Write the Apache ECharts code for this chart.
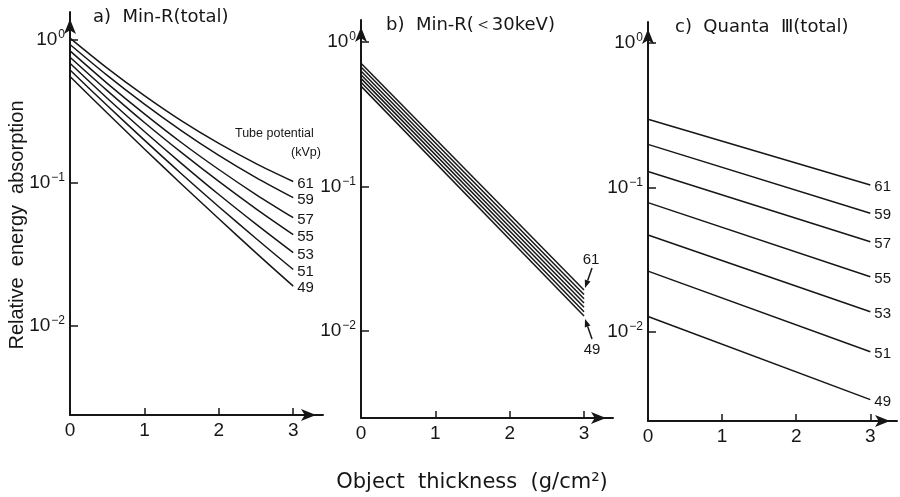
<!DOCTYPE html>
<html>
<head>
<meta charset="utf-8">
<script src="https://cdn.jsdelivr.net/npm/echarts@6/dist/echarts.min.js"></script>
<style>
html, body { margin: 0; padding: 0; background: #fff; }
#main { width: 900px; height: 497px; }
</style>
</head>
<body>
<div id="main"></div>
<script>
// tube potential (kVp) of each curve, top to bottom
var kvp = ['61', '59', '57', '55', '53', '51', '49'];

// a) Min-R (total)
var thickA = [0, 0.5, 1, 1.5, 2, 2.5, 3];
var minRTotal = [
  [1.02, 0.63, 0.405, 0.27, 0.188, 0.136, 0.102],
  [0.92, 0.56, 0.353, 0.23, 0.155, 0.1085, 0.0786],
  [0.83, 0.493, 0.302, 0.19, 0.1236, 0.0827, 0.057],
  [0.75, 0.439, 0.263, 0.162, 0.102, 0.0657, 0.0434],
  [0.68, 0.388, 0.2275, 0.136, 0.0827, 0.0514, 0.0325],
  [0.61, 0.345, 0.198, 0.115, 0.068, 0.0408, 0.0248],
  [0.55, 0.306, 0.172, 0.0976, 0.056, 0.0324, 0.019]
];

// b) Min-R (<30keV)
var thickB = [0, 3];
var minR30 = [
  [0.713, 0.0192],
  [0.671, 0.0179],
  [0.631, 0.0167],
  [0.594, 0.0156],
  [0.560, 0.0146],
  [0.526, 0.0136],
  [0.495, 0.0127]
];

// c) Quanta III (total)
var thickC = [0, 3];
var quanta = [
  [0.297, 0.104],
  [0.199, 0.0663],
  [0.129, 0.0422],
  [0.0786, 0.0241],
  [0.0469, 0.0138],
  [0.0264, 0.0073],
  [0.0128, 0.0034]
];

var yTicks = [1, 0.1, 0.01];
var xTicks = [0, 1, 2, 3];

var ink = '#161616';
var font = "'Liberation Sans', Arial, sans-serif";
var wide = "'DejaVu Sans', sans-serif";

function yLabel(v) {
  var e = Math.round(Math.log(v) / Math.LN10);
  return '{b|10}{s|' + (e === 0 ? '0' : '\u2212' + (-e)) + '}';
}

function xAxisOf(i, max) {
  return {
    gridIndex: i, type: 'value', min: 0, max: max,
    axisLine: { show: true, symbol: ['none', 'arrow'], symbolSize: [9, 15], symbolOffset: [0, -7],
      lineStyle: { color: ink, width: 2 } },
    axisTick: { show: true, inside: true, length: 7, customValues: xTicks, lineStyle: { color: ink, width: 1.5 } },
    axisLabel: { customValues: xTicks, color: ink, fontSize: 19, fontFamily: font, margin: 6 },
    splitLine: { show: false }
  };
}

function yAxisOf(i, min, max) {
  return {
    gridIndex: i, type: 'log', min: min, max: max,
    axisLine: { show: true, symbol: ['none', 'arrow'], symbolSize: [9, 15], symbolOffset: [0, -7],
      lineStyle: { color: ink, width: 2 } },
    axisTick: { show: true, inside: true, length: 8, customValues: yTicks, lineStyle: { color: ink, width: 1.5 } },
    axisLabel: {
      customValues: yTicks, formatter: yLabel, margin: 5,
      rich: {
        b: { fontSize: 19, fontFamily: font, color: ink, lineHeight: 22 },
        s: { fontSize: 12, fontFamily: font, color: ink, verticalAlign: 'top', lineHeight: 22, padding: [0, 0, 9, 1] }
      }
    },
    splitLine: { show: false }
  };
}

function curves(i, xs, rows, smooth, labels) {
  return rows.map(function (row, k) {
    return {
      name: kvp[k], type: 'line', xAxisIndex: i, yAxisIndex: i,
      data: xs.map(function (x, j) { return [x, row[j]]; }),
      smooth: smooth, showSymbol: false, silent: true,
      lineStyle: { color: ink, width: 1.5 },
      endLabel: { show: labels, formatter: '{a}', distance: 4, offset: [0, 2],
        color: ink, fontSize: 15, fontFamily: font }
    };
  });
}

var myChart = echarts.init(document.getElementById('main'));
var titleStyle = { fontSize: 18, fontWeight: 'normal', color: ink, fontFamily: wide };
var option = {
  backgroundColor: '#fff',
  animation: false,
  title: [
    { text: 'a)  Min-R(total)', left: 88, top: 3, textStyle: titleStyle },
    { text: 'b)  Min-R(\uFF1C30keV)', left: 381, top: 11, textStyle: titleStyle },
    { text: 'c)  Quanta  \u2162(total)', left: 670, top: 13, textStyle: titleStyle }
  ],
  grid: [
    { left: 70, top: 12, width: 253, height: 403 },
    { left: 361, top: 20, width: 252, height: 398 },
    { left: 648, top: 22, width: 249, height: 399 }
  ],
  xAxis: [xAxisOf(0, 3.4), xAxisOf(1, 3.39), xAxisOf(2, 3.36)],
  yAxis: [yAxisOf(0, 0.0024, 1.55), yAxisOf(1, 0.0025, 1.42), yAxisOf(2, 0.00242, 1.40)],
  series: [].concat(
    curves(0, thickA, minRTotal, 0.3, true),
    curves(1, thickB, minR30, false, false),
    curves(2, thickC, quanta, false, true)
  )
};
myChart.setOption(option);

// arrow pointer with a filled head at "to"
function pointer(from, to) {
  var dx = to[0] - from[0], dy = to[1] - from[1];
  var len = Math.sqrt(dx * dx + dy * dy);
  var ux = dx / len, uy = dy / len;
  var bx = to[0] - ux * 8, by = to[1] - uy * 8;
  return [
    { type: 'line', shape: { x1: from[0], y1: from[1], x2: bx, y2: by }, style: { stroke: ink, lineWidth: 1.5 } },
    { type: 'polygon', shape: { points: [to, [bx - uy * 3, by + ux * 3], [bx + uy * 3, by - ux * 3]] }, style: { fill: ink } }
  ];
}

var topEnd = myChart.convertToPixel({ xAxisIndex: 1, yAxisIndex: 1 }, [3, minR30[0][1]]);
var botEnd = myChart.convertToPixel({ xAxisIndex: 1, yAxisIndex: 1 }, [3, minR30[6][1]]);
var textStyle = { fill: ink, fontSize: 15, fontFamily: font, textAlign: 'center', textVerticalAlign: 'middle' };

var graphics = [
  { type: 'text', left: 235, top: 127, style: { text: 'Tube potential', fill: ink, fontSize: 12.5, fontFamily: font } },
  { type: 'text', left: 291, top: 146, style: { text: '(kVp)', fill: ink, fontSize: 12.5, fontFamily: font } },
  { type: 'text', x: 17, y: 225, rotation: Math.PI / 2,
    style: { text: 'Relative  energy  absorption', fill: ink, fontSize: 20, fontFamily: font,
      textAlign: 'center', textVerticalAlign: 'middle' } },
  { type: 'text', x: 472, y: 483,
    style: { text: 'Object  thickness  (g/cm\u00B2)', fill: ink, fontSize: 21, fontFamily: wide,
      textAlign: 'center', textVerticalAlign: 'middle' } },
  { type: 'text', x: topEnd[0] + 7, y: topEnd[1] - 30, style: echarts.util.extend({ text: kvp[0] }, textStyle) },
  { type: 'text', x: botEnd[0] + 8, y: botEnd[1] + 34, style: echarts.util.extend({ text: kvp[6] }, textStyle) }
].concat(
  pointer([topEnd[0] + 8, topEnd[1] - 22], [topEnd[0] + 1, topEnd[1] - 2]),
  pointer([botEnd[0] + 8, botEnd[1] + 23], [botEnd[0] + 1, botEnd[1] + 3])
);
myChart.setOption({ graphic: graphics });
</script>
</body>
</html>
